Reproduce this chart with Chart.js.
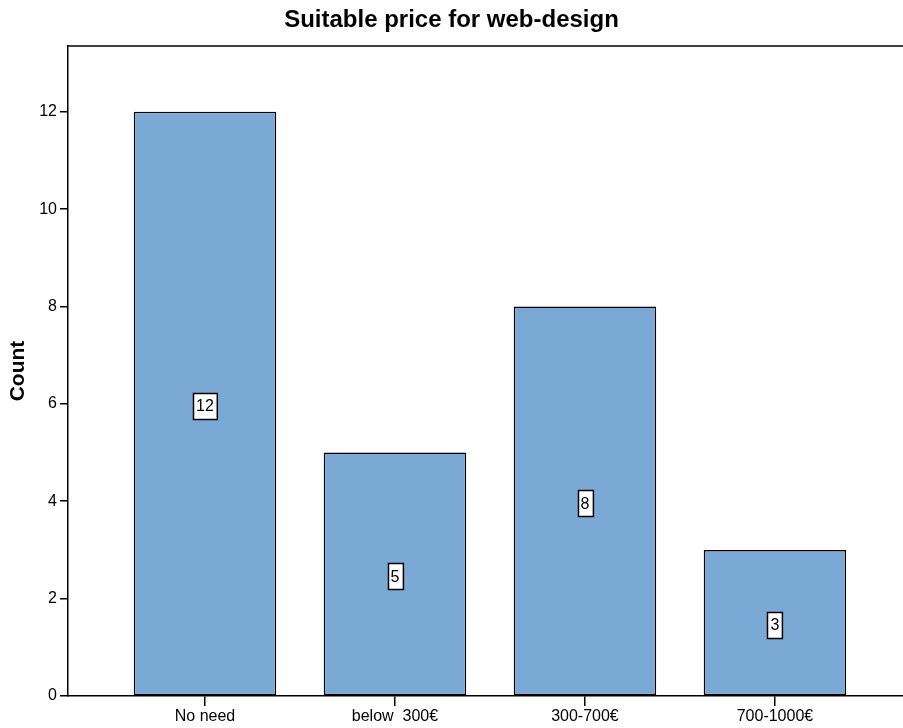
<!DOCTYPE html>
<html>
<head>
<meta charset="utf-8">
<script src="https://cdn.jsdelivr.net/npm/chart.js@4/dist/chart.umd.min.js"></script>
<style>
  html, body { margin: 0; padding: 0; background: #fff; }
  canvas { display: block; }
</style>
</head>
<body>
<canvas id="c" width="903" height="728"></canvas>
<script>
// Survey answers: which price is suitable for a web-design job
const categories = ['No need', 'below  300\u20ac', '300-700\u20ac', '700-1000\u20ac'];
const counts = [12, 5, 8, 3];
const yTicks = [0, 2, 4, 6, 8, 10, 12];

const FONT = '"Liberation Sans", Arial, sans-serif';
const positions = categories.map((_, i) => i + 1);

// value boxes centred inside each bar, plus the top frame line
const valueBoxes = {
  id: 'valueBoxes',
  afterDatasetsDraw(chart) {
    const ctx = chart.ctx;
    const y = chart.scales.y;
    const meta = chart.getDatasetMeta(0);
    ctx.save();
    ctx.font = '16px ' + FONT;
    ctx.textAlign = 'center';
    ctx.textBaseline = 'middle';
    meta.data.forEach((bar, i) => {
      const v = counts[i];
      const cy = y.getPixelForValue(v / 2) + 2;
      const txt = String(v);
      const w = ctx.measureText(txt).width + 6;
      const h = 26;
      const x0 = Math.round(bar.x - w / 2) + 0.5;
      const y0 = Math.round(cy - h / 2) + 0.5;
      ctx.fillStyle = '#fff';
      ctx.fillRect(x0, y0, w, h);
      ctx.strokeStyle = '#000';
      ctx.lineWidth = 1.5;
      ctx.strokeRect(x0, y0, w, h);
      ctx.fillStyle = '#000';
      ctx.fillText(txt, bar.x, cy + 1);
    });
    const a = chart.chartArea;
    ctx.beginPath();
    ctx.moveTo(a.left, a.top);
    ctx.lineTo(a.right, a.top);
    ctx.lineWidth = 1.5;
    ctx.strokeStyle = '#000';
    ctx.stroke();
    ctx.restore();
  }
};

new Chart(document.getElementById('c'), {
  type: 'bar',
  data: {
    datasets: [{
      data: positions.map((x, i) => ({ x: x, y: counts[i] })),
      backgroundColor: '#7ba9d6',
      borderColor: '#000',
      borderWidth: 1.5,
      borderSkipped: false,
      categoryPercentage: 1,
      barPercentage: 0.75
    }]
  },
  options: {
    responsive: false,
    animation: false,
    devicePixelRatio: 1,
    layout: { padding: 0 },
    plugins: {
      legend: { display: false },
      tooltip: { enabled: false },
      title: {
        display: true,
        text: 'Suitable price for web-design',
        color: '#000',
        font: { family: FONT, size: 24, weight: 'bold', lineHeight: 1.2 },
        padding: { top: 6, bottom: 11.2 }
      }
    },
    scales: {
      x: {
        type: 'linear',
        offset: false,
        min: 0.279,
        max: 4.674,
        afterBuildTicks(scale) { scale.ticks = positions.map(v => ({ value: v })); },
        afterFit(scale) { scale.height = 32; },
        ticks: {
          color: '#000',
          font: { family: FONT, size: 16 },
          padding: 1,
          maxRotation: 0,
          autoSkip: false,
          callback: (v) => categories[v - 1]
        },
        grid: { display: true, offset: false, drawOnChartArea: false, drawTicks: true, tickLength: 10, color: '#000', lineWidth: 1.5 },
        border: { display: true, color: '#000', width: 1.5 }
      },
      y: {
        min: 0,
        max: 13.35,
        afterBuildTicks(scale) { scale.ticks = yTicks.map(v => ({ value: v })); },
        afterFit(scale) { scale.width = 68; },
        ticks: {
          color: '#000',
          font: { family: FONT, size: 16 },
          padding: 3
        },
        grid: { display: true, drawOnChartArea: false, drawTicks: true, tickLength: 8, color: '#000', lineWidth: 1.5 },
        border: { display: true, color: '#000', width: 1.5 },
        title: {
          display: true,
          text: 'Count',
          color: '#000',
          font: { family: FONT, size: 21, weight: 'bold', lineHeight: 1.2 },
          padding: { top: 6, bottom: 0 }
        }
      }
    }
  },
  plugins: [valueBoxes]
});
</script>
</body>
</html>
